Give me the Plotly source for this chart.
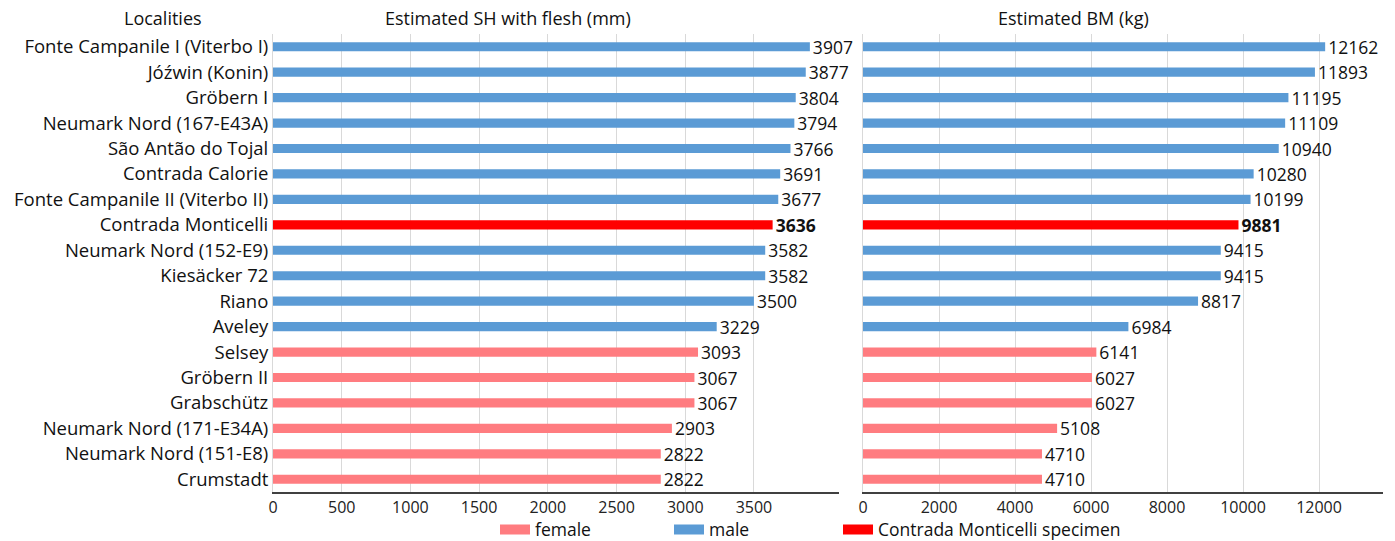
import plotly.graph_objects as go

localities = [
    "Fonte Campanile I (Viterbo I)", "Jóźwin (Konin)", "Gröbern I", "Neumark Nord (167-E43A)",
    "São Antão do Tojal", "Contrada Calorie", "Fonte Campanile II (Viterbo II)", "Contrada Monticelli",
    "Neumark Nord (152-E9)", "Kiesäcker 72", "Riano", "Aveley", "Selsey", "Gröbern II",
    "Grabschütz", "Neumark Nord (171-E34A)", "Neumark Nord (151-E8)", "Crumstadt",
]
sh_mm = [3907, 3877, 3804, 3794, 3766, 3691, 3677, 3636, 3582, 3582, 3500, 3229, 3093, 3067, 3067, 2903, 2822, 2822]
bm_kg = [12162, 11893, 11195, 11109, 10940, 10280, 10199, 9881, 9415, 9415, 8817, 6984, 6141, 6027, 6027, 5108, 4710, 4710]
group = ["male"] * 7 + ["specimen"] + ["male"] * 4 + ["female"] * 6

series = [
    ("female", "female", "#FF7C80"),
    ("male", "male", "#5B9BD5"),
    ("specimen", "Contrada Monticelli specimen", "#FF0000"),
]
left_ticks = [0, 500, 1000, 1500, 2000, 2500, 3000, 3500]
right_ticks = [0, 2000, 4000, 6000, 8000, 10000, 12000]
titles = [("Localities", 163), ("Estimated SH with flesh (mm)", 508), ("Estimated BM (kg)", 1073)]

FONT = "Open Sans"
W, H = 1395, 541
fig = go.Figure()

legend_names = {"female": "legend", "male": "legend2", "specimen": "legend3"}
for key, name, color in series:
    idx = [i for i, g in enumerate(group) if g == key]
    for vals, xa, ya in ((sh_mm, "x", "y"), (bm_kg, "x2", "y2")):
        labels = [f"<b>{vals[i]}</b>" if key == "specimen" else str(vals[i]) for i in idx]
        fig.add_trace(go.Bar(
            y=[localities[i] for i in idx], x=[vals[i] for i in idx],
            orientation="h", name=name, legendgroup=key, showlegend=False,
            marker=dict(color=color, line=dict(width=0)),
            width=0.36, text=labels, textposition="outside",
            constraintext="none", cliponaxis=False,
            textfont=dict(size=17.5, color="#111111", family=FONT),
            xaxis=xa, yaxis=ya, hoverinfo="x+y",
        ))
    # legend entry (swatch) for this group
    fig.add_trace(go.Scatter(
        x=[None], y=[None], mode="lines", name=name, legendgroup=key,
        line=dict(color=color, width=10), showlegend=True,
        legend=legend_names[key], xaxis="x", yaxis="y",
    ))

ydom = [(H - 492) / H, (H - 34) / H]
xstyle = dict(showgrid=True, gridcolor="#D9D9D9", gridwidth=1, zeroline=False,
              showline=True, linecolor="#404040", linewidth=2, tickformat="d",
              tickfont=dict(size=16, color="#222222", family=FONT), ticks="")
legend_style = dict(orientation="h", xanchor="left", yanchor="middle", y=(H - 529.5) / H,
                    font=dict(size=17.5, family=FONT, color="#111111"),
                    bgcolor="rgba(0,0,0,0)", itemwidth=30)

fig.update_layout(
    width=W, height=H, margin=dict(l=0, r=0, t=0, b=0, autoexpand=False),
    paper_bgcolor="white", plot_bgcolor="white", barmode="overlay",
    font=dict(family=FONT, color="#111111"),
    xaxis=dict(domain=[273 / W, 839 / W], range=[0, 4119], tickvals=left_ticks, anchor="y", **xstyle),
    xaxis2=dict(domain=[863 / W, 1383 / W], range=[0, 13684], tickvals=right_ticks, anchor="y2", **xstyle),
    yaxis=dict(domain=ydom, categoryorder="array", categoryarray=localities, autorange="reversed",
               showline=True, linecolor="#D9D9D9", linewidth=1, showgrid=False,
               tickfont=dict(size=18.5, color="#111111", family=FONT), ticks="",
               anchor="x"),
    yaxis2=dict(domain=ydom, categoryorder="array", categoryarray=localities, autorange="reversed",
                showline=True, linecolor="#D9D9D9", linewidth=1, showgrid=False,
                showticklabels=False, anchor="x2"),
    legend=dict(x=495 / W, **legend_style),
    legend2=dict(x=669 / W, **legend_style),
    legend3=dict(x=838 / W, **legend_style),
    annotations=[
        dict(text=t, x=xc / W, y=(H - 18) / H, xref="paper", yref="paper",
             xanchor="center", yanchor="middle", showarrow=False,
             font=dict(size=18, family=FONT, color="#111111"))
        for t, xc in titles
    ],
)

fig.write_html("out.html", config={"displayModeBar": False},
               post_script="document.body.style.margin='0';document.body.style.overflow='hidden';")
